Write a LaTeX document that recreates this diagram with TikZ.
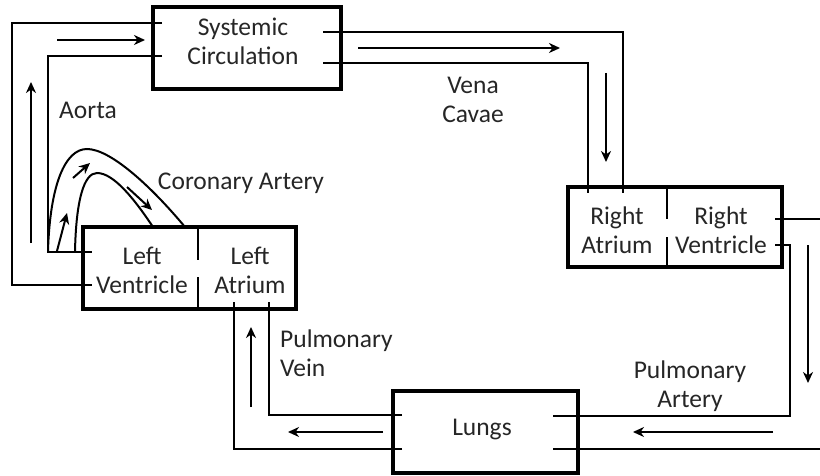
\documentclass[tikz,border=0pt]{standalone}
\usepackage{fontspec}
\setmainfont{Carlito}
\usetikzlibrary{arrows.meta}
\begin{document}
\begin{tikzpicture}[x=1pt,y=-1pt,
  box/.style={draw,line width=3.2pt,inner sep=0pt},
  pipe/.style={line width=2pt},
  flow/.style={line width=2pt,-{Stealth[length=11pt,width=10pt,inset=3.5pt]}},
  lbl/.style={font=\fontsize{25.5}{29}\selectfont,text=black!85,align=center,inner sep=0pt}]
\useasboundingbox (0,0) rectangle (820,476);
% boxes
\node[box,minimum width=188pt,minimum height=82pt] (sys) at (247,48) {};
\node[box,minimum width=213pt,minimum height=82pt] (lh) at (189.5,268) {};
\node[box,minimum width=214pt,minimum height=80pt] (rh) at (675,227) {};
\node[box,minimum width=185pt,minimum height=82pt] (lungs) at (485.5,432) {};
% texts
\node[lbl] (tsys) at (243,41.5) {Systemic\\Circulation};
\node[lbl] (tlv) at (142,270) {Left\\Ventricle};
\node[lbl] (tla) at (250,270) {Left\\Atrium};
\node[lbl] (tra) at (617,230) {Right\\Atrium};
\node[lbl] (trv) at (721,230) {Right\\Ventricle};
\node[lbl] (tlu) at (482,430) {Lungs};
\node[lbl] (aorta) at (88,110) {Aorta};
\node[lbl] (cor) at (241,183) {Coronary Artery};
\node[lbl] (vena) at (473,100) {Vena\\Cavae};
\node[lbl,align=left,anchor=west] (pv) at (280,353) {Pulmonary\\Vein};
\node[lbl] (pa) at (690,386) {Pulmonary\\Artery};
% dividers
\coordinate (lhd1) at (198,227); \coordinate (lhd2) at (198,260);
\coordinate (lhd3) at (198,277); \coordinate (lhd4) at (198,309);
\coordinate (rhd1) at (667,187); \coordinate (rhd2) at (667,219);
\coordinate (rhd3) at (667,237); \coordinate (rhd4) at (667,267);
\draw[line width=2.6pt] (lhd1) -- (lhd2) (lhd3) -- (lhd4);
\draw[line width=2.6pt] (rhd1) -- (rhd2) (rhd3) -- (rhd4);
% aorta
\coordinate (ao1) at (162,23); \coordinate (ao2) at (92,285);
\coordinate (ai1) at (162,56); \coordinate (ai2) at (92,252);
\draw[pipe] (ao1) -- (12,23) -- (12,285) -- (ao2);
\draw[pipe] (ai1) -- (48,56) -- (48,252) -- (ai2);
\coordinate (fa1) at (31,243); \coordinate (fa2) at (31,82);
\draw[flow] (fa1) -- (fa2);
\coordinate (fb1) at (57,40); \coordinate (fb2) at (145,40);
\draw[flow] (fb1) -- (fb2);
% coronary
\draw[pipe] (48,251) .. controls (50,185) and (65,149) .. (87,149)
  .. controls (110,149) and (150,185) .. (185,227);
\draw[pipe] (75,252) .. controls (76,200) and (84,173) .. (97,173)
  .. controls (114,173) and (135,200) .. (153,227);
\draw[flow] (57,251) -- (67,213);
\draw[flow] (73,178) -- (90,163);
\draw[flow] (127,187) -- (152,210);
% vena cavae
\coordinate (vu1) at (323,32); \coordinate (vu2) at (623,193);
\coordinate (vl1) at (323,63); \coordinate (vl2) at (588,193);
\draw[pipe] (vu1) -- (623,32) -- (vu2);
\draw[pipe] (vl1) -- (588,63) -- (vl2);
\coordinate (fc1) at (358,48); \coordinate (fc2) at (560,48);
\draw[flow] (fc1) -- (fc2);
\coordinate (fd1) at (606,73); \coordinate (fd2) at (606,162);
\draw[flow] (fd1) -- (fd2);
% right side
\coordinate (rt1) at (775,219); \coordinate (rt2) at (820,219);
\draw[pipe] (rt1) -- (rt2);
\coordinate (pa1) at (775,245); \coordinate (pa2) at (553,416);
\draw[pipe] (pa1) -- (790,245) -- (790,416) -- (pa2);
\coordinate (lr1) at (553,449); \coordinate (lr2) at (820,449);
\draw[pipe] (lr1) -- (lr2);
\coordinate (fe1) at (808,245); \coordinate (fe2) at (808,383);
\draw[flow] (fe1) -- (fe2);
\coordinate (ff1) at (773,432); \coordinate (ff2) at (633,432);
\draw[flow] (ff1) -- (ff2);
% pulmonary vein
\coordinate (pvu1) at (402,415); \coordinate (pvu2) at (269,302);
\coordinate (pvl1) at (402,449); \coordinate (pvl2) at (234,302);
\draw[pipe] (pvu1) -- (269,415) -- (pvu2);
\draw[pipe] (pvl1) -- (234,449) -- (pvl2);
\coordinate (fg1) at (251,407); \coordinate (fg2) at (251,327);
\draw[flow] (fg1) -- (fg2);
\coordinate (fh1) at (383,432); \coordinate (fh2) at (288,432);
\draw[flow] (fh1) -- (fh2);
\end{tikzpicture}
\end{document}
